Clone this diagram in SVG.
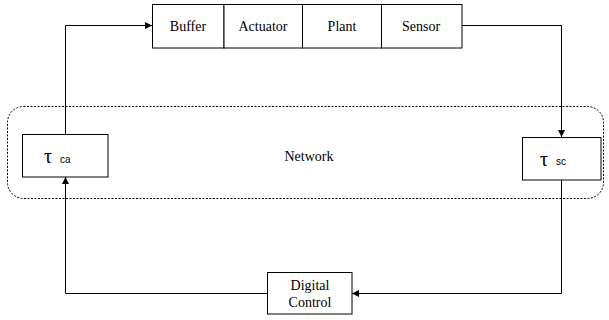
<svg xmlns="http://www.w3.org/2000/svg" width="609" height="320" viewBox="0 0 609 320">
  <defs>
    <marker id="arrow" viewBox="0 0 10 10" refX="10" refY="5" markerWidth="7" markerHeight="7" orient="auto" markerUnits="userSpaceOnUse">
      <path d="M0,0 L10,5 L0,10 z" fill="#000"/>
    </marker>
    <style>
      .box { fill: #fff; stroke: #000; stroke-width: 1; }
      .lbl { font-family: "Liberation Serif", "Times New Roman", serif; font-size: 14px; fill: #000; text-anchor: middle; }
      .tau { font-family: "Liberation Serif", "Times New Roman", serif; font-size: 20px; fill: #000; }
      .sub { font-family: "Liberation Sans", Arial, sans-serif; font-size: 10px; fill: #000; }
      .wire { fill: none; stroke: #000; stroke-width: 1; }
    </style>
  </defs>
  <rect width="609" height="320" fill="#fff"/>

  <!-- network region -->
  <rect id="network" x="7.5" y="106.5" width="596" height="92" rx="16" ry="16" fill="none" stroke="#000" stroke-width="1" stroke-dasharray="2,1.5"/>
  <text class="lbl" x="309" y="161">Network</text>

  <!-- connectors -->
  <g id="connectors">
    <polyline class="wire" points="462,25.5 561.5,25.5 561.5,137" marker-end="url(#arrow)"/>
    <polyline class="wire" points="561.5,180 561.5,293.5 352,293.5" marker-end="url(#arrow)"/>
    <polyline class="wire" points="267,293.5 65.5,293.5 65.5,177" marker-end="url(#arrow)"/>
    <polyline class="wire" points="65.5,134 65.5,25.5 152,25.5" marker-end="url(#arrow)"/>
  </g>

  <!-- process chain -->
  <g id="buffer">
    <rect class="box" x="152.5" y="4.5" width="71.5" height="43.5"/>
    <text class="lbl" x="188" y="31">Buffer</text>
  </g>
  <g id="actuator">
    <rect class="box" x="224" y="4.5" width="78.5" height="43.5"/>
    <text class="lbl" x="263" y="31">Actuator</text>
  </g>
  <g id="plant">
    <rect class="box" x="302.5" y="4.5" width="79" height="43.5"/>
    <text class="lbl" x="342" y="31">Plant</text>
  </g>
  <g id="sensor">
    <rect class="box" x="381.5" y="4.5" width="80.5" height="43.5"/>
    <text class="lbl" x="421" y="31">Sensor</text>
  </g>

  <!-- delays -->
  <g id="tau-ca">
    <rect class="box" x="22.5" y="134.5" width="85.5" height="42.5"/>
    <text class="tau" x="44" y="163">τ</text>
    <text class="sub" x="60" y="163">ca</text>
  </g>
  <g id="tau-sc">
    <rect class="box" x="522.5" y="137.5" width="78.5" height="42.5"/>
    <text class="tau" x="540" y="166">τ</text>
    <text class="sub" x="556" y="165">sc</text>
  </g>

  <!-- controller -->
  <g id="digital-control">
    <rect class="box" x="267.5" y="272.5" width="84.5" height="41.5"/>
    <text class="lbl" x="310" y="290">Digital</text>
    <text class="lbl" x="310" y="307">Control</text>
  </g>
</svg>
